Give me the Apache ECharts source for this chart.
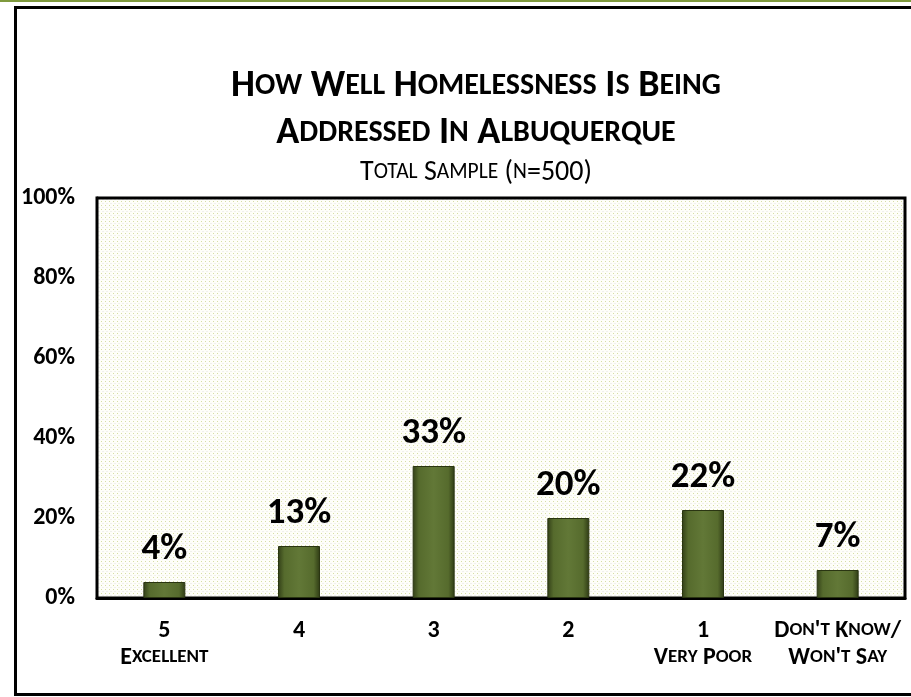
<!DOCTYPE html>
<html>
<head>
<meta charset="utf-8">
<title>Homelessness chart</title>
<script src="https://cdn.jsdelivr.net/npm/echarts@6/dist/echarts.min.js"></script>
<style>
	html, body { margin: 0; padding: 0; background: #fff; }
	#main { width: 911px; height: 697px; }
</style>
</head>
<body>
<div id="main"></div>
<script>
/* 数据 */
var categories = ['5\nExcellent', '4', '3', '2', '1\nVery Poor', "Don't Know/\nWon't Say"];
var values = [4, 13, 33, 20, 22, 7];
var yTicks = [0, 20, 40, 60, 80, 100];
var titleLines = ['How Well Homelessness Is Being', 'Addressed In Albuquerque'];
var subTitle = 'Total Sample (n=500)';

var FONT = 'Carlito, "Open Sans", "Noto Sans", sans-serif';

/* small caps -> rich text */
function smallCaps(str, big, small) {
	return str.split('\n').map(function(line) {
		var out = '', run = '', kind = null;
		for (var i = 0; i < line.length; i++) {
			var c = line[i];
			var k = (c >= 'a' && c <= 'z') ? small : big;
			if (k !== kind && run) {
				out += '{' + kind + '|' + run + '}';
				run = '';
			}
			kind = k;
			run += (k === small) ? c.toUpperCase() : c;
		}
		if (run) out += '{' + kind + '|' + run + '}';
		return out;
	}).join('\n');
}

/* dotted background */
function dotPattern() {
	var cv = document.createElement('canvas');
	cv.width = 4;
	cv.height = 4;
	var ctx = cv.getContext('2d');
	ctx.fillStyle = '#fefef9';
	ctx.fillRect(0, 0, 4, 4);
	ctx.fillStyle = '#d6dea4';
	ctx.fillRect(1, 1, 1, 1);
	ctx.fillStyle = '#f0f0ec';
	ctx.fillRect(2, 3, 2, 1);
	return cv;
}

window.onload = function() {
	var chart = echarts.init(document.getElementById('main'), null, { renderer: 'canvas' });

	var barColor = new echarts.graphic.LinearGradient(0, 0, 1, 0, [
		{ offset: 0, color: '#323f17' },
		{ offset: 0.15, color: '#566b2d' },
		{ offset: 0.5, color: '#627837' },
		{ offset: 0.85, color: '#566b2d' },
		{ offset: 1, color: '#2e3a14' }
	]);

	var option = {
		animation: false,
		backgroundColor: '#fff',
		textStyle: { fontFamily: FONT },
		title: [{
			text: smallCaps(titleLines.join('\n'), 'T', 't'),
			left: 471,
			top: 58,
			textAlign: 'center',
			textStyle: {
				rich: {
					T: { fontFamily: FONT, fontSize: 38, fontWeight: 'bold', color: '#000', lineHeight: 47 },
					t: { fontFamily: FONT, fontSize: 30, fontWeight: 'bold', color: '#000', lineHeight: 47 }
				}
			}
		}, {
			text: smallCaps(subTitle, 'S', 's'),
			left: 471,
			top: 155,
			textAlign: 'center',
			textStyle: {
				fontWeight: 'normal',
				rich: {
					S: { fontFamily: FONT, fontSize: 28, fontWeight: 'normal', color: '#000', lineHeight: 26 },
					s: { fontFamily: FONT, fontSize: 21.5, fontWeight: 'normal', color: '#000', lineHeight: 26 }
				}
			}
		}],
		graphic: [{
			type: 'rect',
			shape: { x: 0, y: 0, width: 911, height: 2 },
			style: { fill: '#7f9a3e' },
			silent: true
		}, {
			type: 'rect',
			shape: { x: 15.5, y: 7.5, width: 1000, height: 687 },
			style: { fill: 'none', stroke: '#000', lineWidth: 3 },
			silent: true
		}],
		grid: {
			left: 97,
			right: 6,
			top: 198,
			bottom: 99,
			show: true,
			backgroundColor: { image: dotPattern(), repeat: 'repeat' },
			borderColor: '#000',
			borderWidth: 3,
			z: 1
		},
		xAxis: {
			type: 'category',
			data: categories,
			axisLine: { lineStyle: { color: '#000', width: 3 } },
			axisTick: { show: false },
			axisLabel: {
				interval: 0,
				margin: 19,
				formatter: function(v) { return smallCaps(v, 'X', 'x'); },
				rich: {
					X: { fontFamily: FONT, fontSize: 24, fontWeight: 'bold', color: '#000', lineHeight: 27 },
					x: { fontFamily: FONT, fontSize: 19, fontWeight: 'bold', color: '#000', lineHeight: 27 }
				}
			}
		},
		yAxis: {
			type: 'value',
			min: yTicks[0],
			max: yTicks[yTicks.length - 1],
			interval: yTicks[1] - yTicks[0],
			axisLine: { show: true, lineStyle: { color: '#000', width: 3 } },
			axisTick: { show: false },
			splitLine: { lineStyle: { color: '#d9d9d9', width: 2 } },
			axisLabel: {
				margin: 22,
				formatter: '{value}%',
				fontFamily: FONT,
				fontSize: 24,
				fontWeight: 'bold',
				color: '#000'
			}
		},
		series: [{
			type: 'bar',
			data: values,
			barWidth: 42,
			itemStyle: {
				color: barColor,
				borderColor: '#2a3512',
				borderWidth: 1
			},
			label: {
				show: true,
				position: 'top',
				distance: 14,
				lineHeight: 36,
				formatter: '{c}%',
				fontFamily: FONT,
				fontSize: 37,
				fontWeight: 'bold',
				color: '#000'
			}
		}]
	};
	chart.setOption(option);
};
</script>
</body>
</html>
